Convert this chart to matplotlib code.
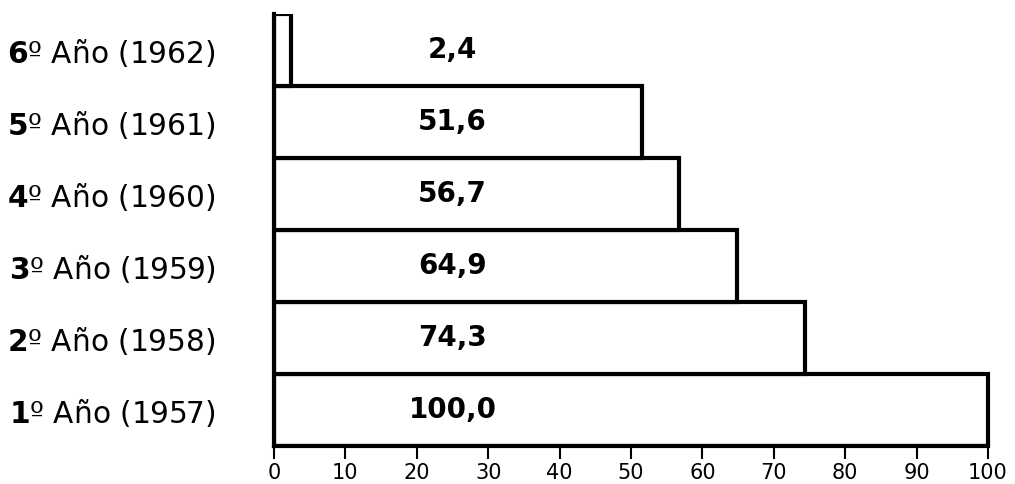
import matplotlib
matplotlib.use("Agg")
import matplotlib.pyplot as plt

ordinals = ["1", "2", "3", "4", "5", "6"]
years = ["1957", "1958", "1959", "1960", "1961", "1962"]
values = [100.0, 74.3, 64.9, 56.7, 51.6, 2.4]
value_labels = ["100,0", "74,3", "64,9", "56,7", "51,6", "2,4"]
xticks = [0, 10, 20, 30, 40, 50, 60, 70, 80, 90, 100]

W, H = 1015, 484
fig = plt.figure(figsize=(W / 100, H / 100), dpi=100)
x0, x100 = 274, 988
right_px = 1005
xmax = 100 * (right_px - x0) / (x100 - x0)
ax = fig.add_axes([x0 / W, (H - 446) / H, (right_px - x0) / W, (446 - 14) / H])

pos = list(range(len(values)))
ax.barh(pos, values, height=1.0, color="white", edgecolor="black", linewidth=3, zorder=2)
for p, v, lab in zip(pos, values, value_labels):
    ax.text(25, p, lab, ha="center", va="center", fontsize=20, fontweight="bold",
            family="DejaVu Sans", zorder=3)

ax.set_xlim(0, xmax)
ax.set_ylim(-0.5, 5.5)
ax.set_xticks(xticks)
ax.set_xticklabels([str(t) for t in xticks], fontsize=15)
ax.set_yticks(pos)
ax.set_yticklabels([r"$\mathbf{%s}$º Año (%s)" % (o, y) for o, y in zip(ordinals, years)],
                   fontsize=21.3)
ax.tick_params(axis="y", length=0, pad=42)
ax.tick_params(axis="x", direction="out", length=9, width=1.5, pad=3)
for s in ["top", "right"]:
    ax.spines[s].set_visible(False)
ax.spines["bottom"].set_linewidth(3)
ax.spines["left"].set_linewidth(3)
ax.spines["bottom"].set_bounds(0, 100)

fig.savefig("out.png", dpi=100, facecolor="white")
